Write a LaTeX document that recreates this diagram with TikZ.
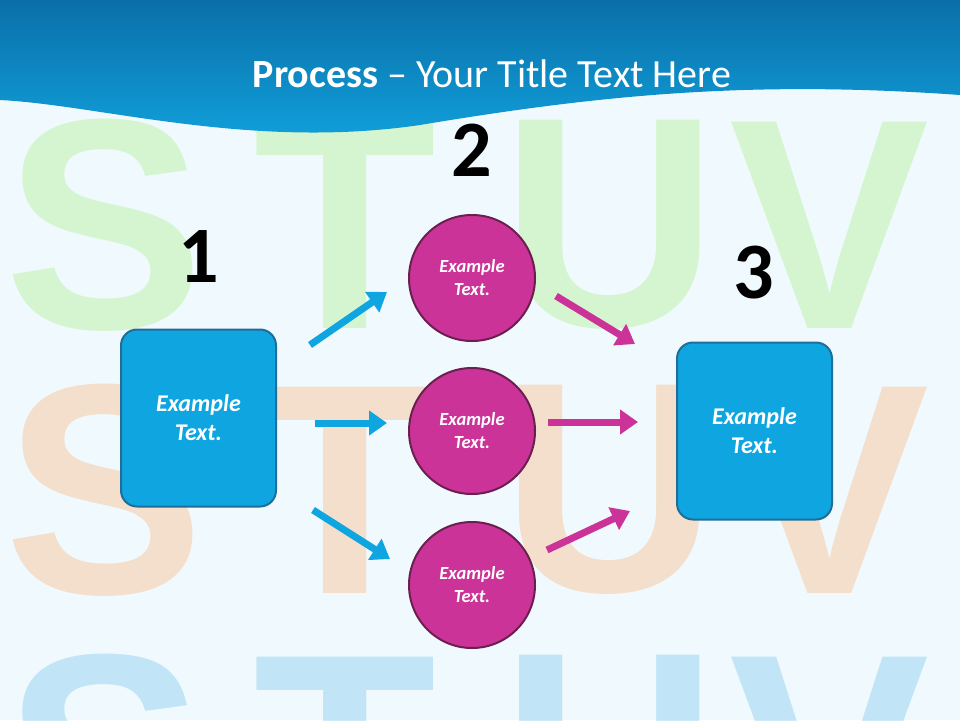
\documentclass[tikz,border=0pt]{standalone}
\usepackage{fontspec}
\setmainfont{Carlito}
\newfontfamily\bigfont{Liberation Sans}
\usetikzlibrary{arrows.meta}
\definecolor{cyanbox}{HTML}{0EA5E0}
\definecolor{cyanedge}{HTML}{1F6E99}
\definecolor{mag}{HTML}{CC3399}
\definecolor{magedge}{HTML}{6B1F4F}
\definecolor{hdtop}{HTML}{0A6FA8}
\definecolor{hdbot}{HTML}{11A3DE}
\tikzset{
 boxnode/.style={draw=cyanedge,line width=2pt,fill=cyanbox,rounded corners=16pt,minimum width=155pt,minimum height=177pt,text=white,align=center,font=\bfseries\itshape\fontsize{24}{29}\selectfont},
 circnode/.style={circle,draw=magedge,line width=2pt,fill=mag,minimum size=126pt,text=white,align=center,font=\bfseries\itshape\fontsize{18.5}{23}\selectfont},
 numnode/.style={font=\bfseries\fontsize{80}{80}\selectfont},
 barr/.style={line width=7pt,draw=cyanbox,-{Triangle[length=18pt,width=24pt]}},
 marr/.style={line width=7pt,draw=mag,-{Triangle[length=18pt,width=24pt]}},
 bgl/.style={font=\bigfont\bfseries\fontsize{300}{300}\selectfont,opacity=0.2}
}
\begin{document}
\begin{tikzpicture}[x=1pt,y=-1pt]
\useasboundingbox (0,0) rectangle (960,720);
\fill[white!94!cyan] (0,0) rectangle (960,720);
\foreach \c/\y in {green!60!yellow!80!gray/225,orange!90!red/490,cyan!80!blue/760}{
 \node[bgl,text=\c] (sl) at (105,\y) {S};
 \node[bgl,text=\c] (tl) at (345,\y) {T};
 \node[bgl,text=\c] (ul) at (610,\y) {U};
 \node[bgl,text=\c] (vl) at (830,\y) {V};
}
\shade[top color=hdtop,bottom color=hdbot] (0,0) -- (960,0) -- (960,95) .. controls (750,80) and (600,95) .. (420,125) .. controls (250,150) and (100,105) .. (0,100) -- cycle;
\node[text=white,font=\fontsize{40}{46}\selectfont] (title) at (492,74) {\textbf{Process} -- Your Title Text Here};
\node[numnode] (n1) at (199,257) {1};
\node[numnode] (n2) at (472,150) {2};
\node[numnode] (n3) at (754,273) {3};
\node[boxnode] (L) at (198.5,418) {Example\\Text.};
\node[boxnode] (R) at (754.5,431) {Example\\Text.};
\node[circnode] (c1) at (472,278) {Example\\Text.};
\node[circnode] (c2) at (472,431) {Example\\Text.};
\node[circnode] (c3) at (472,585) {Example\\Text.};
\coordinate (a1s) at (310,345); \coordinate (a1e) at (387,292);
\coordinate (a2s) at (315,423); \coordinate (a2e) at (387,423);
\coordinate (a3s) at (313,510); \coordinate (a3e) at (390,559);
\coordinate (b1s) at (556,296); \coordinate (b1e) at (635,344);
\coordinate (b2s) at (548,422); \coordinate (b2e) at (638,422);
\coordinate (b3s) at (547,550); \coordinate (b3e) at (630,511);
\draw[barr] (a1s) -- (a1e);
\draw[barr] (a2s) -- (a2e);
\draw[barr] (a3s) -- (a3e);
\draw[marr] (b1s) -- (b1e);
\draw[marr] (b2s) -- (b2e);
\draw[marr] (b3s) -- (b3e);
\end{tikzpicture}
\end{document}
